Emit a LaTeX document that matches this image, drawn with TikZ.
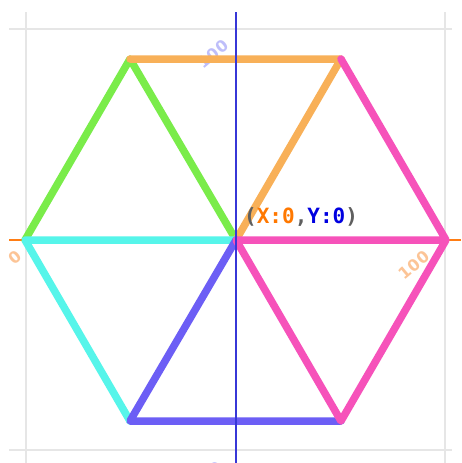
\documentclass[tikz,border=0pt]{standalone}
\usepackage{fontspec}
\usepackage{tikz}
\usetikzlibrary{positioning}
\newfontfamily\labfont{DejaVu Sans}
\newfontfamily\posfont{DejaVu Sans Mono}
\definecolor{gridgray}{RGB}{230,230,230}
\definecolor{axisblue}{RGB}{55,55,215}
\definecolor{axisorange}{RGB}{255,125,20}
\definecolor{labblue}{RGB}{190,190,250}
\definecolor{laborange}{RGB}{252,196,150}
\definecolor{hexgreen}{RGB}{122,236,74}
\definecolor{hexorange}{RGB}{248,176,88}
\definecolor{hexpink}{RGB}{246,82,186}
\definecolor{hexcyan}{RGB}{86,245,234}
\definecolor{hexviolet}{RGB}{108,94,245}
\definecolor{posgray}{RGB}{95,95,95}
\definecolor{posorange}{RGB}{255,120,0}
\definecolor{posblue}{RGB}{0,0,225}
\tikzset{
  gridline/.style={draw=gridgray, line width=2.4pt},
  axisline/.style={line width=1.6pt},
  edge/.style={line width=7.5pt, line cap=round, line join=round},
  axlabel/.style={font={\labfont\bfseries\fontsize{16}{16}\selectfont}, inner sep=0pt, rotate=40},
  poslabel/.style={font={\posfont\bfseries\fontsize{21}{21}\selectfont}, inner sep=0pt, text=posgray}
}

\begin{document}
\begin{tikzpicture}[x=1pt,y=-1pt]
\clip (0,0) rectangle (461,463);
\fill[white] (0,0) rectangle (461,463);
% grid
\draw[gridline] (26,12) -- (26,463);
\draw[gridline] (445,12) -- (445,463);
\draw[gridline] (9,29) -- (452,29);
\draw[gridline] (9,450) -- (452,450);
\draw[axisline, draw=axisorange] (9,240) -- (461,240);
% axis numbers
\node[axlabel, text=labblue] (ytop) at (213,54) {100};
\node[axlabel, text=labblue] (ybot) at (207,476) {100};
\node[axlabel, text=laborange] (xleft) at (15,257) {0};
\node[axlabel, text=laborange] (xright) at (414,265) {100};
% hexagon corners
\coordinate (o) at (236,240);
\coordinate (e) at (446,240);
\coordinate (w) at (25,240);
\coordinate (ne) at (341,59);
\coordinate (nw) at (130,59);
\coordinate (se) at (341,421);
\coordinate (sw) at (130,421);
\draw[edge, draw=hexgreen] (w) -- (nw) -- (o);
\draw[edge, draw=hexorange] (nw) -- (ne) -- (o);
\draw[edge, draw=hexcyan] (o) -- (w) -- (sw);
\draw[edge, draw=hexviolet] (o) -- (sw) -- (se);
\draw[edge, draw=hexpink] (ne) -- (e) -- (se) -- (o) -- (e);
\draw[axisline, draw=axisblue] (236,12) -- (236,463);
% position readout
\node[poslabel, anchor=base west] (pos) at (244,223)
  {(\textcolor{posorange}{X:0},\textcolor{posblue}{Y:0})};
\end{tikzpicture}
\end{document}
